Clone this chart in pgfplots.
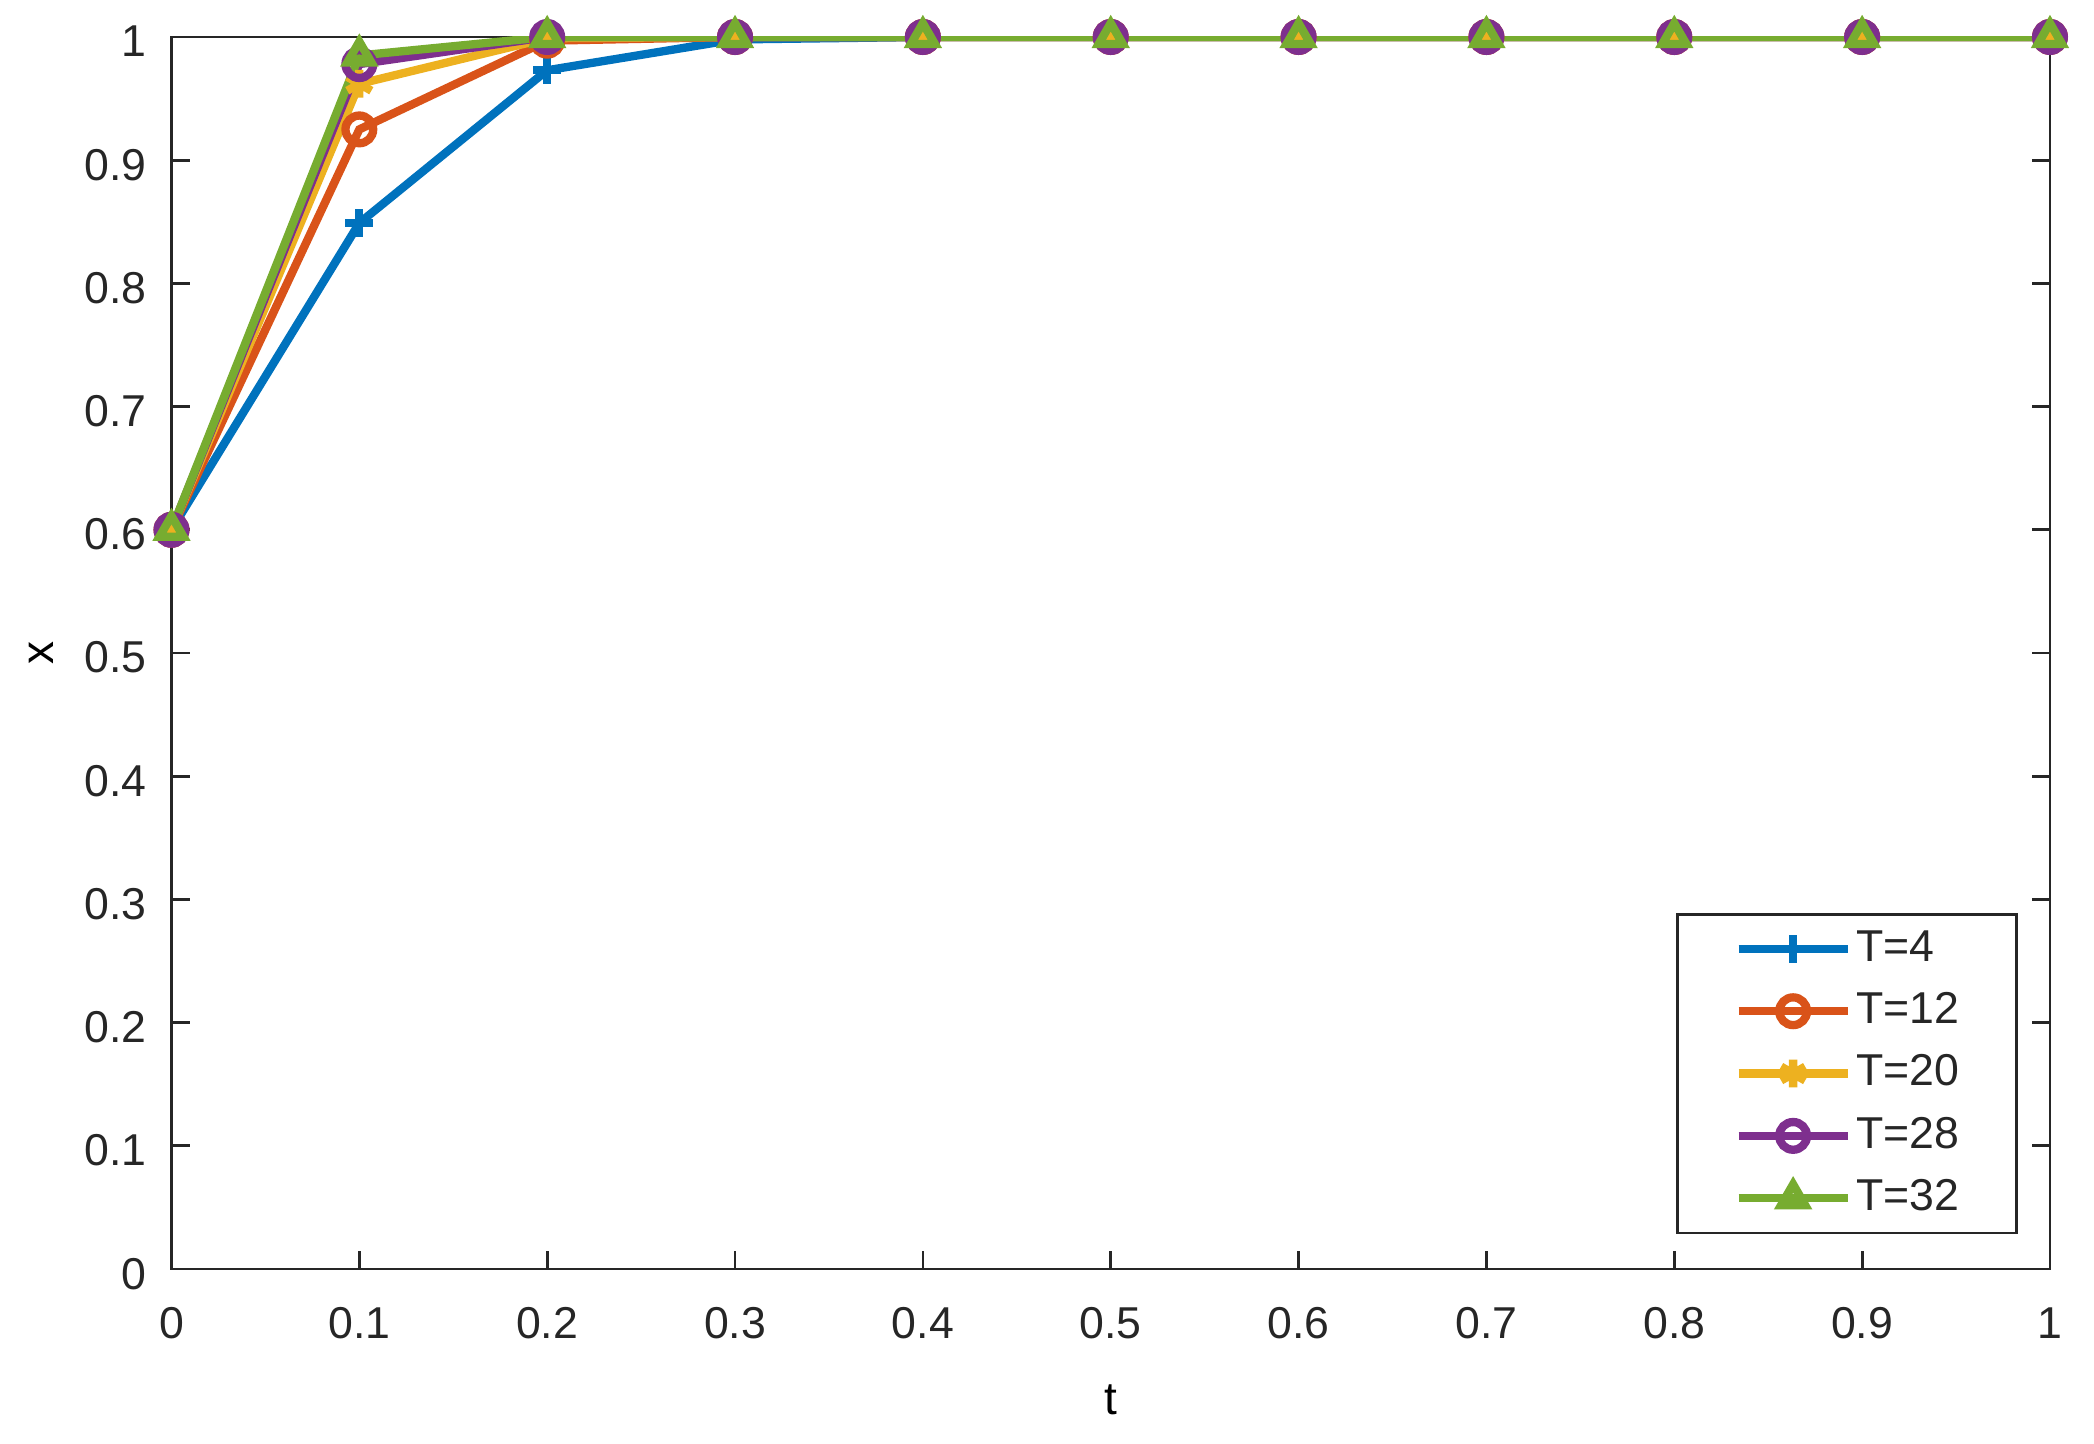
\documentclass[border=0pt]{standalone}
\usepackage{fontspec}
\setmainfont{Liberation Sans}
\usepackage{pgfplots}
\pgfplotsset{compat=1.18}
\definecolor{mblue}{RGB}{0,114,189}
\definecolor{morange}{RGB}{217,83,25}
\definecolor{myellow}{RGB}{237,177,32}
\definecolor{mpurple}{RGB}{126,47,142}
\definecolor{mgreen}{RGB}{119,172,48}
\definecolor{mtext}{RGB}{38,38,38}
\begin{document}
\begin{tikzpicture}
\useasboundingbox (-37.12bp,-37.66bp) rectangle (416.13bp,274.68bp);
\begin{axis}[
  at={(0,0)}, anchor=south west,
  scale only axis,
  width=406.6bp, height=266.67bp,
  xmin=0, xmax=1, ymin=0, ymax=1,
  xtick={0,0.1,...,1.01}, ytick={0,0.1,...,1.01},
  tick align=inside,
  major tick length=4bp,
  axis line style={mtext, line width=0.6bp},
  every tick/.style={mtext, line width=0.6bp},
  /pgf/number format/assume math mode=true,
  /pgf/number format/fixed,
  /pgf/number format/precision=1,
  tick label style={font=\fontsize{9.7}{11}\selectfont, text=mtext, inner sep=0pt},
  xticklabel style={anchor=north, yshift=-8.2bp},
  yticklabel style={anchor=east, xshift=-5.2bp, yshift=-1bp},
  label style={font=\fontsize{10}{12}\selectfont, text=mtext},
  every axis x label/.style={at={(axis description cs:0.5,0)}, anchor=center, yshift=-28.4bp},
  every axis y label/.style={at={(axis description cs:0,0.5)}, anchor=center, rotate=90, yshift=28.2bp},
  xlabel={t}, ylabel={x},
  every axis plot/.append style={line width=1.8bp, mark size=3bp},
  legend style={at={(axis description cs:1,0)}, anchor=south east,
    xshift=-6.9bp, yshift=7.5bp, draw=mtext, line width=0.6bp,
    inner xsep=12.4bp, inner ysep=3.4bp, row sep=5.25bp, column sep=1.0bp,
    font=\fontsize{9.7}{11}\selectfont, text=mtext,
    nodes={inner sep=0pt}},
  legend cell align=left,
  legend image code/.code={\draw[mark repeat=2,mark phase=2,#1] plot coordinates {(0bp,0bp) (11.8bp,0bp) (23.6bp,0bp)};},
]
\addplot[color=mblue, mark=+] coordinates {(0,0.6) (0.1,0.849) (0.2,0.973) (0.3,0.998) (0.4,1) (0.5,1) (0.6,1) (0.7,1) (0.8,1) (0.9,1) (1,1)};
\addlegendentry{T=4}
\addplot[color=morange, mark=o] coordinates {(0,0.6) (0.1,0.925) (0.2,0.997) (0.3,1) (0.4,1) (0.5,1) (0.6,1) (0.7,1) (0.8,1) (0.9,1) (1,1)};
\addlegendentry{T=12}
\addplot[color=myellow, mark=asterisk] coordinates {(0,0.6) (0.1,0.962) (0.2,0.999) (0.3,1) (0.4,1) (0.5,1) (0.6,1) (0.7,1) (0.8,1) (0.9,1) (1,1)};
\addlegendentry{T=20}
\addplot[color=mpurple, mark=o] coordinates {(0,0.6) (0.1,0.978) (0.2,1) (0.3,1) (0.4,1) (0.5,1) (0.6,1) (0.7,1) (0.8,1) (0.9,1) (1,1)};
\addlegendentry{T=28}
\addplot[color=mgreen, mark=triangle] coordinates {(0,0.6) (0.1,0.985) (0.2,1) (0.3,1) (0.4,1) (0.5,1) (0.6,1) (0.7,1) (0.8,1) (0.9,1) (1,1)};
\addlegendentry{T=32}
\end{axis}
\end{tikzpicture}
\end{document}
